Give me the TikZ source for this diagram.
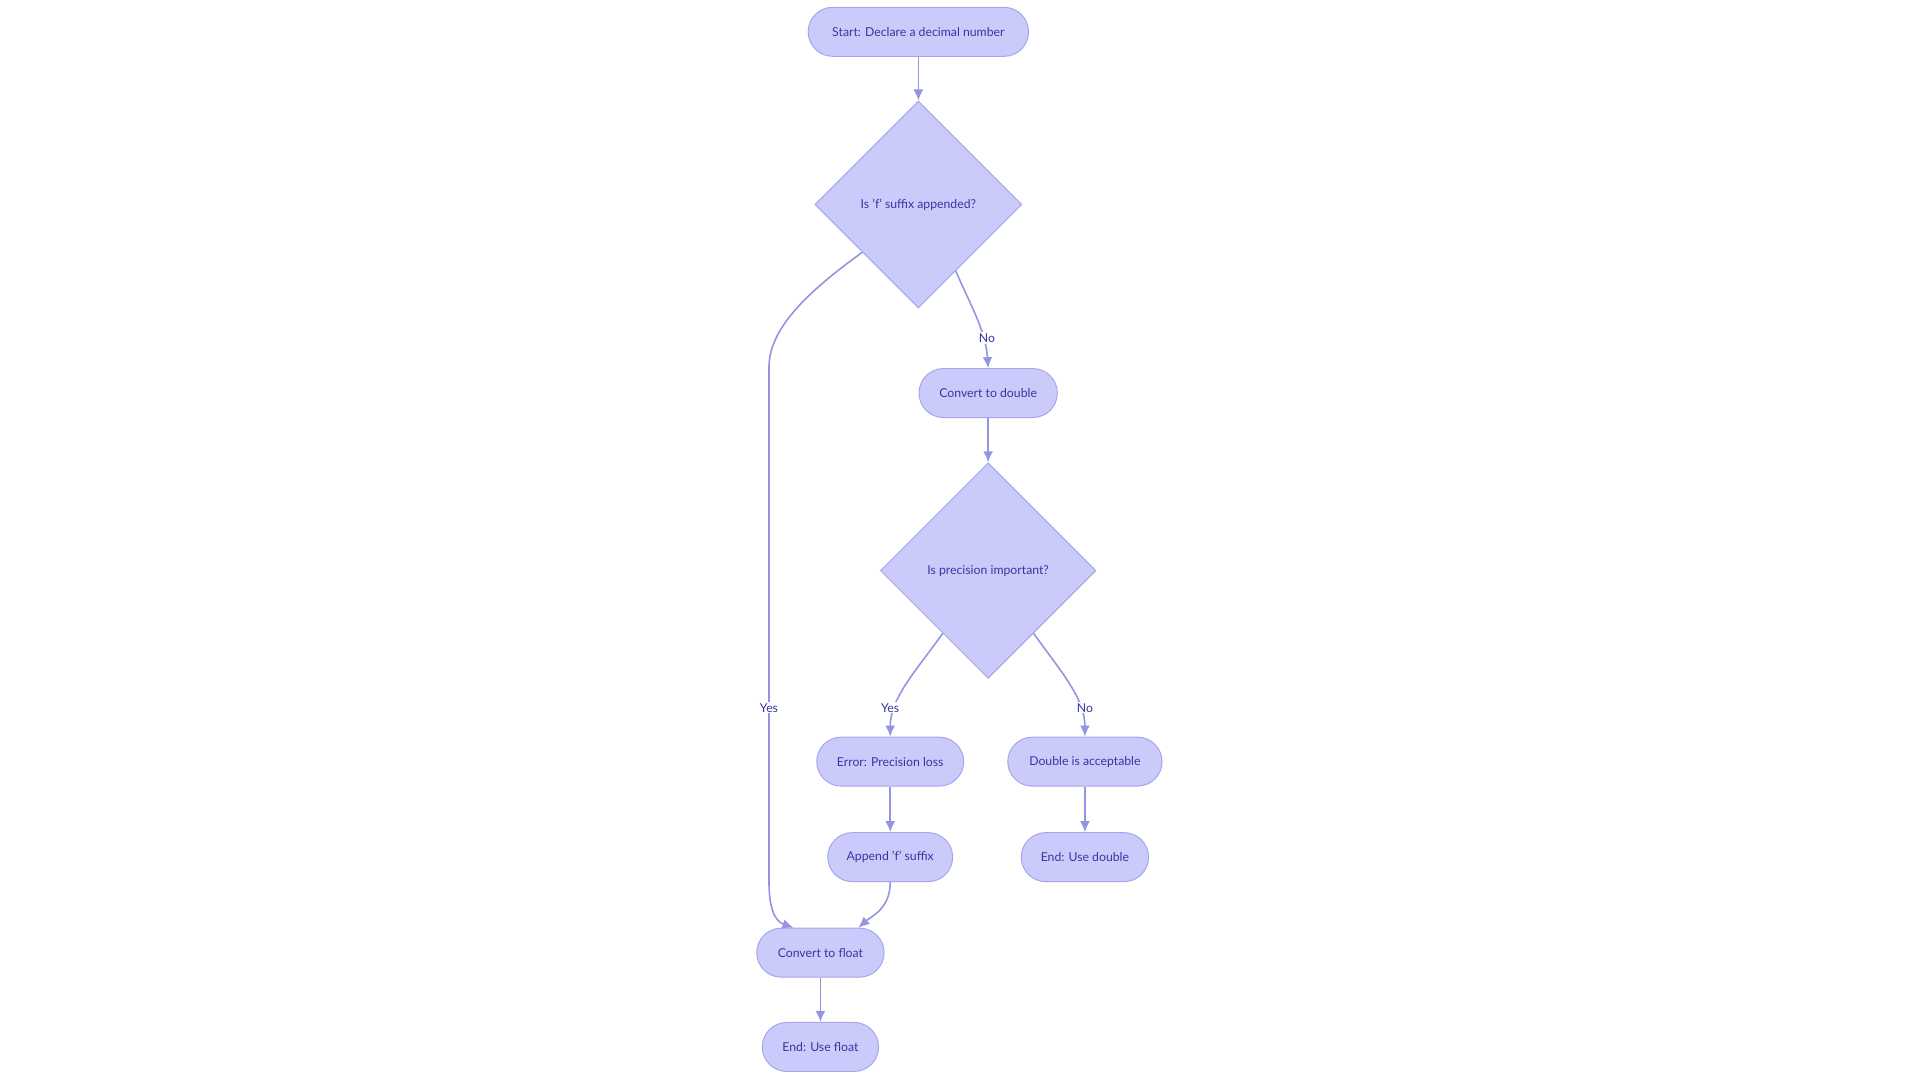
\documentclass[tikz,border=0pt]{standalone}
\usepackage{fontspec}
\setmainfont{Lato}
\usetikzlibrary{shapes.geometric,arrows.meta,calc}
\definecolor{nfill}{HTML}{CBCBFB}
\definecolor{nline}{HTML}{A5A5EA}
\definecolor{ntext}{HTML}{3636A0}
\definecolor{eline}{HTML}{9494E2}
\tikzset{
  term/.style={draw=nline, fill=nfill, rounded corners=20pt, minimum height=40pt, text=ntext, font=\fontsize{10}{12}\selectfont, inner xsep=0pt, line width=0.8pt},
  dec/.style={draw=nline, fill=nfill, diamond, aspect=1, inner sep=0pt, text=ntext, font=\fontsize{10}{12}\selectfont, line width=0.8pt},
  edge/.style={draw=eline, line width=1.3pt, -{Latex[length=9pt,width=8pt]}},
  lbl/.style={fill=white, text=ntext, font=\fontsize{10}{12}\selectfont, inner sep=1pt}
}
\begin{document}
\begin{tikzpicture}[x=1pt,y=-1pt]
\useasboundingbox (0,0) rectangle (1568,882);
\node[term, minimum width=180pt] (start) at (750,26) {Start: Declare a decimal number};
\node[dec, minimum width=169pt, minimum height=169pt] (d1) at (750,167) {Is 'f' suffix appended?};
\node[term, minimum width=113pt] (cd) at (807,321) {Convert to double};
\node[dec, minimum width=176pt, minimum height=176pt] (d2) at (807,466) {Is precision important?};
\node[term, minimum width=120pt] (err) at (727,622) {Error: Precision loss};
\node[term, minimum width=126pt] (acc) at (886,622) {Double is acceptable};
\node[term, minimum width=102pt] (app) at (727,700) {Append 'f' suffix};
\node[term, minimum width=104pt] (ed) at (886,700) {End: Use double};
\node[term, minimum width=104pt] (cf) at (670,778) {Convert to float};
\node[term, minimum width=95pt] (ef) at (670,855) {End: Use float};

\coordinate (d1y) at ($(d1.west)!0.46!(d1.south)$);
\coordinate (d1n) at ($(d1.south)!0.36!(d1.east)$);
\coordinate (d2y) at ($(d2.west)!0.58!(d2.south)$);
\coordinate (d2n) at ($(d2.south)!0.42!(d2.east)$);
\coordinate (ly) at (628,300);
\coordinate (ly2) at (628,720);

\draw[edge] (start) -- (d1);
\draw[edge] (d1y) .. controls (660,238) and (628,268) .. (ly) -- (ly2) .. controls (628,740) and (632,752) .. ([xshift=-22pt]cf.north);
\node[lbl] (ty) at (628,578) {Yes};
\draw[edge] (d1n) .. controls (792,248) and (805,270) .. (cd.north);
\node[lbl] (tn) at (806,276) {No};
\draw[edge] (cd) -- (d2);
\draw[edge] (d2y) .. controls (748,548) and (727,570) .. (err.north);
\node[lbl] (t2y) at (727,578) {Yes};
\draw[edge] (d2n) .. controls (866,548) and (886,570) .. (acc.north);
\node[lbl] (t2n) at (886,578) {No};
\draw[edge] (err) -- (app);
\draw[edge] (acc) -- (ed);
\draw[edge] (app.south) .. controls (727,742) and (712,748) .. ([xshift=31pt]cf.north);
\draw[edge] (cf) -- (ef);
\end{tikzpicture}
\end{document}
